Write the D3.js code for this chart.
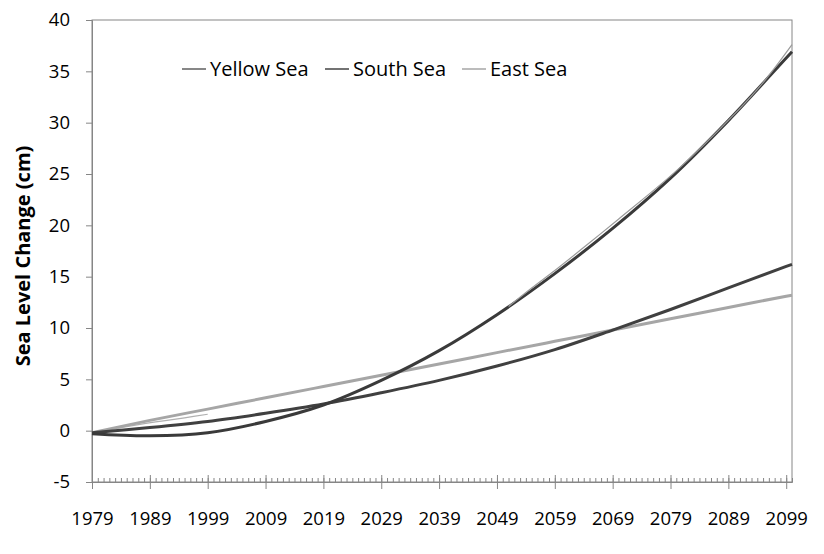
<!DOCTYPE html>
<html><head><meta charset="utf-8">
<script src="https://cdn.jsdelivr.net/npm/d3@7"></script>
<style>body{margin:0;background:#fff}svg{display:block}text{font-family:"Open Sans",sans-serif}</style>
</head><body><div id="chart"></div>
<script>
// ---- data ----
const seriesNames = ["Yellow Sea", "South Sea", "East Sea"];
const trendYears  = [1979, 1989, 1999, 2009, 2019, 2029, 2039, 2049, 2059, 2069, 2079, 2089, 2099, 2100];
const yellowTrend = [-0.3, -0.5, -0.2, 0.9, 2.5, 4.9, 7.8, 11.3, 15.3, 19.7, 24.6, 30.2, 36.3, 36.9];
const southTrend  = [-0.2, 0.3, 0.9, 1.7, 2.6, 3.7, 4.9, 6.3, 7.9, 9.8, 11.8, 13.9, 16.0, 16.2];
const eastTrend   = [-0.2, 1.0, 2.1, 3.2, 4.3, 5.4, 6.5, 7.6, 8.7, 9.8, 10.9, 12.0, 13.1, 13.2];
const eastObsYears   = [1981, 1985, 1990, 1995, 1999];
const eastObs        = [0.0, 0.4, 0.85, 1.25, 1.6];
const yellowProjYears = [2051, 2055, 2059, 2065, 2070, 2080, 2090, 2095, 2100];
const yellowProj      = [12.1, 13.9, 15.6, 18.3, 20.6, 25.3, 30.8, 33.9, 37.6];
const yTicks = [-5, 0, 5, 10, 15, 20, 25, 30, 35, 40];
const xLabelYears = [1979, 1989, 1999, 2009, 2019, 2029, 2039, 2049, 2059, 2069, 2079, 2089, 2099];

const W = 824, H = 554;
const M = {left: 92, right: 792, top: 20, bottom: 482};
const svg = d3.select("#chart").append("svg").attr("width", W).attr("height", H);

const x = d3.scaleLinear().domain([1979, 2100]).range([M.left, M.right]);
const y = d3.scaleLinear().domain([-5, 40]).range([M.bottom, M.top]);
const axisCol = "#868686";
const fmt = d => String(d);

// frame
svg.append("rect").attr("x", M.left).attr("y", M.top)
  .attr("width", M.right - M.left).attr("height", M.bottom - M.top)
  .attr("fill", "none").attr("stroke", axisCol).attr("stroke-width", 1);

// y axis
const yAx = svg.append("g").attr("transform", `translate(${M.left},0)`)
  .call(d3.axisLeft(y).tickValues(yTicks).tickSize(6).tickPadding(16).tickFormat(fmt));
yAx.select(".domain").attr("stroke", axisCol);
yAx.selectAll(".tick line").attr("stroke", axisCol);
yAx.selectAll("text").attr("font-size", 18.5).attr("fill", "#000").style("font-family", '"Open Sans",sans-serif');

// x axis: minor ticks each year (inside), major each decade (crossing)
const minorYears = d3.range(1979, 2101);
const xMinor = svg.append("g").attr("transform", `translate(0,${M.bottom})`)
  .call(d3.axisTop(x).tickValues(minorYears).tickSize(4).tickFormat(""));
xMinor.select(".domain").attr("stroke", axisCol);
xMinor.selectAll(".tick line").attr("stroke", axisCol);
const xMajor = svg.append("g").attr("transform", `translate(0,${M.bottom})`)
  .call(d3.axisBottom(x).tickValues(xLabelYears).tickSizeInner(7).tickSizeOuter(0).tickPadding(23).tickFormat(fmt));
xMajor.select(".domain").remove();
xMajor.selectAll(".tick line").attr("stroke", axisCol).attr("y1", -7);
xMajor.selectAll("text").attr("font-size", 18.5).attr("fill", "#000").style("font-family", '"Open Sans",sans-serif');

// y title
svg.append("text").attr("transform", `translate(30,256) rotate(-90)`)
  .attr("text-anchor", "middle").attr("font-size", 20).attr("font-weight", "bold")
  .text("Sea Level Change (cm)");

// lines
const line = d3.line().x(d => x(d[0])).y(d => y(d[1])).curve(d3.curveCatmullRom.alpha(0.5));
const zip = (a, b) => a.map((v, i) => [v, b[i]]);

svg.append("path").datum(zip(eastObsYears, eastObs)).attr("d", line)
  .attr("fill", "none").attr("stroke", "#b0b0b0").attr("stroke-width", 1.2);

const trends = [
  {vals: eastTrend, col: "#a6a6a6"},
  {vals: southTrend, col: "#404040"},
  {vals: yellowTrend, col: "#3a3a3a"}
];
trends.forEach(t => {
  svg.append("path").datum(zip(trendYears, t.vals)).attr("d", line)
    .attr("fill", "none").attr("stroke", t.col).attr("stroke-width", 3).attr("stroke-linecap", "butt");
});

svg.append("path").datum(zip(yellowProjYears, yellowProj)).attr("d", line)
  .attr("fill", "none").attr("stroke", "#9a9a9a").attr("stroke-width", 1.2);

// legend
const legendCols = ["#5f5f5f", "#454545", "#a6a6a6"];
const legendX = [182, 325, 462];
const lg = svg.append("g");
seriesNames.forEach((n, i) => {
  lg.append("line").attr("x1", legendX[i]).attr("x2", legendX[i] + 24)
    .attr("y1", 69).attr("y2", 69).attr("stroke", legendCols[i]).attr("stroke-width", 1.5);
  lg.append("text").attr("x", legendX[i] + 28).attr("y", 76)
    .attr("font-size", 20).attr("fill", "#000").text(n);
});
</script></body></html>
